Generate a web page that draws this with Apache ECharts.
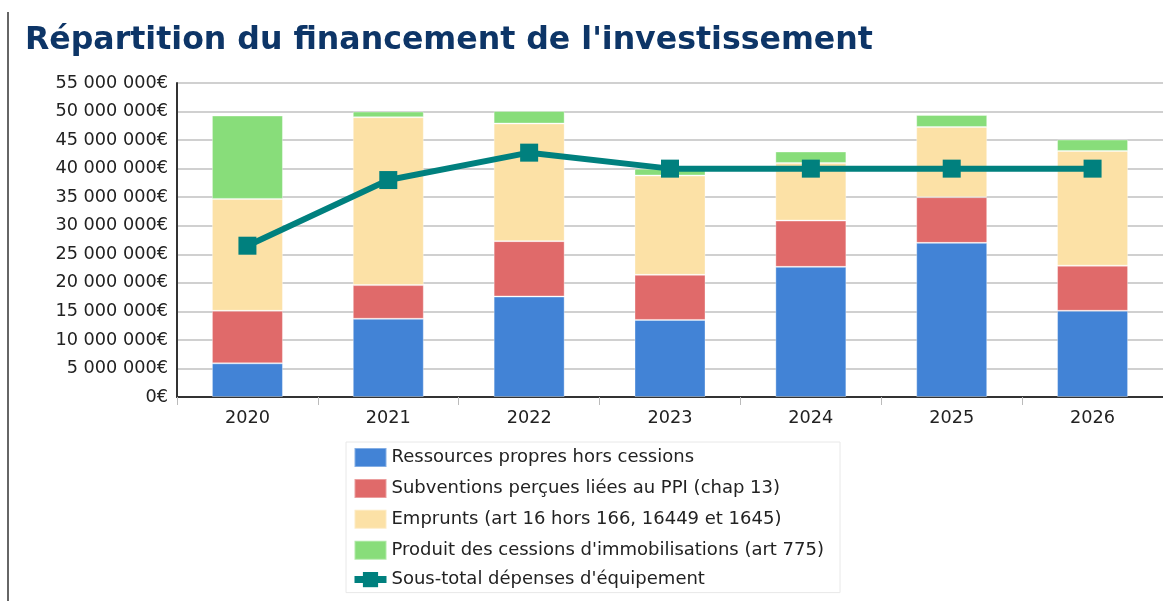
<!DOCTYPE html>
<html>
<head>
<meta charset="utf-8">
<script src="https://cdn.jsdelivr.net/npm/echarts@6/dist/echarts.min.js"></script>
<style>
html,body{margin:0;padding:0;background:#fff;}
#c{width:1163px;height:601px;}
</style>
</head>
<body>
<div id="c"></div>
<script>
var titleText = "Répartition du financement de l'investissement";
var years = ['2020','2021','2022','2023','2024','2025','2026'];
var seriesNames = [
  'Ressources propres hors cessions',
  'Subventions perçues liées au PPI (chap 13)',
  'Emprunts (art 16 hors 166, 16449 et 1645)',
  "Produit des cessions d'immobilisations (art 775)",
  "Sous-total dépenses d'équipement"
];
var ressources = [5900000, 13700000, 17600000, 13500000, 22800000, 27000000, 15100000];
var subventions = [9200000, 5900000, 9700000, 7900000, 8100000, 8000000, 7900000];
var emprunts = [19600000, 29400000, 20600000, 17400000, 10100000, 12300000, 20100000];
var cessions = [14600000, 1000000, 2200000, 1200000, 2000000, 2100000, 2000000];
var sousTotal = [26500000, 38000000, 42800000, 40000000, 40000000, 40000000, 40000000];
var yMin = 0, yMax = 55000000, yStep = 5000000;

var colors = ['#4283d6', '#e06a6a', '#fce1a6', '#88dd7a', '#00807e'];

function fmt(v){
  return String(v).replace(/\B(?=(\d{3})+(?!\d))/g, ' ') + '€';
}

var chart = echarts.init(document.getElementById('c'), null, {renderer:'canvas'});
var font = '"DejaVu Sans", sans-serif';
var barStyle = function(i){
  return {color: colors[i], borderColor: 'rgba(255,255,255,0.35)', borderWidth: 1};
};
chart.setOption({
  animation: false,
  backgroundColor: '#fff',
  textStyle: {fontFamily: font},
  title: {
    text: titleText,
    left: 20, top: 20,
    textStyle: {fontFamily: font, fontSize: 31.6, fontWeight: 'bold', color: '#0d3567'}
  },
  graphic: [{
    type: 'rect', shape: {x: 7, y: 12, width: 2, height: 600},
    style: {fill: '#666'}, silent: true
  }],
  grid: {left: 177, top: 83, width: 987, height: 314, containLabel: false},
  legend: {
    orient: 'vertical',
    left: 346, top: 442,
    padding: [5, 16, 4, 5],
    itemWidth: 32, itemHeight: 19, itemGap: 9.9,
    borderColor: '#e8e8e8', borderWidth: 1,
    textStyle: {fontFamily: font, fontSize: 18, color: '#222'},
    data: [
      {name: seriesNames[0], icon: 'rect'},
      {name: seriesNames[1], icon: 'rect'},
      {name: seriesNames[2], icon: 'rect'},
      {name: seriesNames[3], icon: 'rect'},
      {name: seriesNames[4], lineStyle: {width: 7}}
    ]
  },
  xAxis: {
    type: 'category', data: years, boundaryGap: true,
    axisLine: {lineStyle: {color: '#333', width: 2}},
    axisTick: {show: true, length: 8, lineStyle: {color: '#bbb', width: 1}},
    axisLabel: {fontFamily: font, fontSize: 17.7, color: '#222', margin: 12}
  },
  yAxis: {
    type: 'value', min: yMin, max: yMax, interval: yStep,
    axisLine: {show: true, lineStyle: {color: '#333', width: 2}},
    axisTick: {show: false},
    splitLine: {lineStyle: {color: '#d0d0d0', width: 2}},
    axisLabel: {fontFamily: font, fontSize: 17.7, color: '#222', margin: 9, formatter: fmt}
  },
  series: [
    {name: seriesNames[0], type: 'bar', stack: 't', barWidth: 71, data: ressources, itemStyle: barStyle(0)},
    {name: seriesNames[1], type: 'bar', stack: 't', barWidth: 71, data: subventions, itemStyle: barStyle(1)},
    {name: seriesNames[2], type: 'bar', stack: 't', barWidth: 71, data: emprunts, itemStyle: barStyle(2)},
    {name: seriesNames[3], type: 'bar', stack: 't', barWidth: 71, data: cessions, itemStyle: barStyle(3)},
    {name: seriesNames[4], type: 'line', data: sousTotal, z: 5,
     symbol: 'rect', symbolSize: 18, showSymbol: true,
     lineStyle: {color: colors[4], width: 6},
     itemStyle: {color: colors[4]}}
  ]
});
</script>
</body>
</html>
